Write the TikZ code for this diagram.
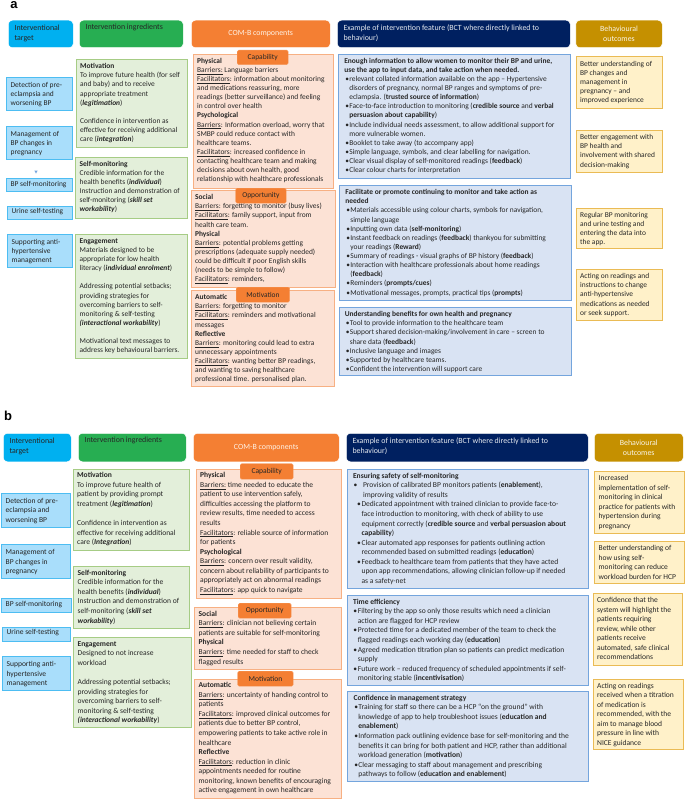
\documentclass[tikz,border=0pt]{standalone}
\usepackage{fontspec}
\setmainfont{Carlito}
\newfontfamily\labelfont{Liberation Sans}
\definecolor{txt}{HTML}{262626}
\definecolor{cyanH}{HTML}{00B0F0}
\definecolor{greenH}{HTML}{27AE52}
\definecolor{orangeH}{HTML}{F47F33}
\definecolor{navyH}{HTML}{002060}
\definecolor{goldH}{HTML}{C59000}
\definecolor{HC}{HTML}{4DBDF2}\definecolor{FC}{HTML}{A9DEFB}
\definecolor{HG}{HTML}{A6CC85}\definecolor{FG}{HTML}{E3EFDA}
\definecolor{HO}{HTML}{F7B083}\definecolor{FO}{HTML}{FCE2D5}
\definecolor{HB}{HTML}{74A5DD}\definecolor{FB}{HTML}{D9E3F3}
\definecolor{HY}{HTML}{EABB55}\definecolor{FY}{HTML}{FFF1C9}
\newcommand\fa{\fontsize{7.45}{9.13}\selectfont}
\newcommand\fb{\fontsize{7.55}{9.55}\selectfont}
\newcommand\fh{\fontsize{7.9}{10}\selectfont}
\tikzset{
 x=1pt,y=-1pt,
 plabel/.style={anchor=center,font=\labelfont\bfseries\fontsize{13}{14}\selectfont,text=black,inner sep=0pt},
 hdr/.style={draw=white,line width=0.5pt,rounded corners=4pt,text=txt,font=\fh},
 hcy/.style={hdr,fill=cyanH},
 hgr/.style={hdr,fill=greenH},
 hor/.style={hdr,fill=orangeH,text=white!90!orange},
 hna/.style={hdr,fill=navyH,text=white!90!navyH},
 hgo/.style={hdr,fill=goldH,text=white!90!goldH},
 tag/.style={draw=orangeH!80!white,line width=0.4pt,rounded corners=1.5pt,fill=orangeH,text=black!85},
 tbox/.style={line width=0.9pt,text=txt},
 tblue/.style={tbox,draw=HC,fill=FC},
 tgreen/.style={tbox,draw=HG,fill=FG},
 tcom/.style={tbox,draw=HO,fill=FO},
 tbct/.style={tbox,draw=HB,fill=FB},
 tout/.style={tbox,draw=HY,fill=FY},
}
\newlength\bulL\newlength\bulH
\setlength\bulL{1pt}\setlength\bulH{5pt}
\newcommand\bul{\par\noindent\hangindent=\bulH\hangafter=1 \hspace*{\bulL}\makebox[\dimexpr\bulH-\bulL\relax][l]{•}\ignorespaces}
\def\px{4.2}
% [top pad] name x0 y0 x1 y1 style text : box with text set from its top left corner
\newcommand\tb[8][2]{%
 \pgfmathsetlengthmacro\bw{#5-#3}\pgfmathsetlengthmacro\bh{#6-#4}%
 \node[#7,anchor=north west,inner sep=0pt,minimum width=\bw,minimum height=\bh] (#2) at (#3,#4)
 {\makebox[\bw][l]{\hspace*{\px pt}\parbox[c][\bh][t]{\dimexpr\bw+30pt\relax}{\raggedright\let\\\newline\vspace*{\dimexpr#1pt+2pt\relax}#8}}};}
% name x0 y0 x1 y1 style text : box with centred text
\newcommand\cb[7]{%
 \pgfmathsetlengthmacro\bw{#4-#2}\pgfmathsetlengthmacro\bh{#5-#3}%
 \node[#6,anchor=north west,inner sep=0pt,minimum width=\bw,minimum height=\bh,align=center] (#1) at (#2,#3) {#7};}
\newcommand\ul[1]{\underline{#1}}
\begin{document}
\begin{tikzpicture}
\useasboundingbox (0,0) rectangle (685,800);
\node[plabel] (la) at (14,5) {a};
\node[plabel] (lb) at (8,416) {b};
%---------- PANEL A headers
\def\px{6.3}
\tb[2.5]{ah1}{8}{20}{73}{47.5}{hcy}{\fh Interventional\\target}
\tb[2]{ah2}{79}{20}{183}{47.5}{hgr}{\fh Intervention ingredients}
\cb{ah3}{191}{20}{330}{47.5}{hor}{COM-B components}
\tb[2.5]{ah4}{337}{20}{570}{47.5}{hna}{\fh Example of intervention feature (BCT where directly linked to\\behaviour)}
\cb{ah5}{575.5}{20}{662}{47.5}{hgo}{Behavioural\\outcomes}
\def\px{4.2}
%---------- targets
\tb[3]{at1}{6}{77}{72}{110}{tblue}{\fa Detection of pre-\\eclampsia and\\worsening BP}
\tb[3]{at2}{6}{126}{72}{159}{tblue}{\fa Management of\\BP changes in\\pregnancy}
\fill[HB] (34.3,170.5) -- (37.7,170.5) -- (36,173.5) -- cycle;
\tb[0.5]{at3}{6}{178}{72}{191}{tblue}{\fa BP self-monitoring}
\tb[0.5]{at4}{7}{205.5}{72}{219}{tblue}{\fa Urine self-testing}
\tb[3]{at5}{7}{234}{72}{267}{tblue}{\fa Supporting anti-\\hypertensive\\management}
%---------- ingredients
\tb[2]{ai1}{75.5}{59}{187}{147}{tgreen}{\fa\textbf{Motivation}\\To improve future health (for self\\and baby) and to receive\\appropriate treatment\\(\textbf{\textit{legitimation}})\\\mbox{}\\Confidence in intervention as\\effective for receiving additional\\care (\textbf{\textit{integration}})}
\tb[2]{ai2}{75}{156.5}{187}{217.5}{tgreen}{\fa\textbf{Self-monitoring}\\Credible information for the\\health benefits (\textbf{\textit{individual}})\\Instruction and demonstration of\\self-monitoring (\textbf{\textit{skill set}}\\\textbf{\textit{workability}})}
\tb[2]{ai3}{75}{234}{187}{358}{tgreen}{\fa\textbf{Engagement}\\Materials designed to be\\appropriate for low health\\literacy (\textbf{\textit{individual enrolment}})\\\mbox{}\\Addressing potential setbacks;\\providing strategies for\\overcoming barriers to self-\\monitoring \& self-testing\\\textbf{\textit{(interactional workability}})\\\mbox{}\\Motivational text messages to\\address key behavioural barriers.}
%---------- COM-B
\tb[1.5]{ac1}{192.5}{54}{332.5}{187.5}{tcom}{\fa\textbf{Physical}\\\ul{Barriers:} Language barriers\\\ul{Facilitators}: information about monitoring\\and medications reassuring, more\\readings (better surveillance) and feeling\\in control over health\\\textbf{Psychological}\\\ul{Barriers}: Information overload, worry that\\SMBP could reduce contact with\\healthcare teams.\\\ul{Facilitators}: increased confidence in\\contacting healthcare team and making\\decisions about own health, good\\relationship with healthcare professionals}
\tb[2]{ac2}{190.5}{190}{334.5}{287}{tcom}{\fa\textbf{Social}\\\ul{Barriers}: forgetting to monitor (busy lives)\\\ul{Facilitators}: family support, input from\\health care team.\\\textbf{Physical}\\\ul{Barriers}: potential problems getting\\prescriptions (adequate supply needed)\\could be difficult if poor English skills\\(needs to be simple to follow)\\\ul{Facilitators}: reminders,}
\tb[2]{ac3}{190.5}{290}{333.5}{386}{tcom}{\fa\textbf{Automatic}\\\ul{Barriers}: forgetting to monitor\\\ul{Facilitators}: reminders and motivational\\messages\\\textbf{Reflective}\\\ul{Barriers}: monitoring could lead to extra\\unnecessary appointments\\\ul{Facilitators}: wanting better BP readings,\\and wanting to saving healthcare\\professional time. personalised plan.}
\cb{at-c1}{237}{50}{288}{64.5}{tag}{\fa Capability}
\cb{at-c2}{235.5}{188}{286}{203}{tag}{\fa Opportunity}
\cb{at-c3}{236}{287}{289.5}{302}{tag}{\fa Motivation}
%---------- BCT
\def\px{5.9}
\tb[1.5]{ab1}{338}{54}{570}{178}{tbct}{\fa\textbf{Enough information to allow women to monitor their BP and urine,}\\\textbf{use the app to input data, and take action when needed.}
\bul relevant collated information available on the app – Hypertensive\\disorders of pregnancy, normal BP ranges and symptoms of pre-\\eclampsia. (\textbf{trusted source of information})
\bul Face-to-face introduction to monitoring (\textbf{credible source} and \textbf{verbal}\\\textbf{persuasion about capability})
\bul Include individual needs assessment, to allow additional support for\\more vulnerable women.
\bul Booklet to take away (to accompany app)
\bul Simple language, symbols, and clear labelling for navigation.
\bul Clear visual display of self-monitored readings (\textbf{feedback})
\bul Clear colour charts for interpretation}
\tb[2]{ab2}{339}{185}{570.5}{300}{tbct}{\fa\textbf{Facilitate or promote continuing to monitor and take action as}\\\textbf{needed}
\bul Materials accessible using colour charts, symbols for navigation,\\simple language
\bul Inputting own data (\textbf{self-monitoring})
\bul Instant feedback on readings (\textbf{feedback}) thankyou for submitting\\your readings (\textbf{Reward})
\bul Summary of readings - visual graphs of BP history (\textbf{feedback})
\bul Interaction with healthcare professionals about home readings\\(\textbf{feedback})
\bul Reminders (\textbf{prompts/cues})
\bul Motivational messages, prompts, practical tips (\textbf{prompts})}
\tb[2]{ab3}{338.5}{307}{570.5}{375}{tbct}{\fa\textbf{Understanding benefits for own health and pregnancy}
\bul Tool to provide information to the healthcare team
\bul Support shared decision-making/involvement in care – screen to\\share data (\textbf{feedback})
\bul Inclusive language and images
\bul Supported by healthcare teams.
\bul Confident the intervention will support care}
\def\px{4.2}
%---------- outcomes
\tb[2]{ao1}{575.5}{56.5}{661.5}{107.5}{tout}{\fa Better understanding of\\BP changes and\\management  in\\pregnancy – and\\improved experience}
\tb[2]{ao2}{575.5}{130}{661.5}{172}{tout}{\fa Better engagement with\\BP health and\\involvement  with shared\\decision-making}
\tb[2]{ao3}{575.5}{207.5}{661.5}{248}{tout}{\fa Regular BP monitoring\\and urine testing and\\entering the data into\\the app.}
\tb[2]{ao4}{575.5}{269}{661.5}{320}{tout}{\fa Acting on readings and\\instructions to change\\anti-hypertensive\\medications as needed\\or seek support.}
%---------- PANEL B headers
\def\px{6.3}
\tb[2.5]{bh1}{3}{433}{71}{461.5}{hcy}{\fh Interventional\\target}
\tb[2]{bh2}{78}{433}{186}{461.5}{hgr}{\fh Intervention ingredients}
\cb{bh3}{193}{433}{339}{461.5}{hor}{COM-B components}
\tb[2.5]{bh4}{346}{433}{588}{461.5}{hna}{\fh Example of intervention feature (BCT where directly linked to\\behaviour)}
\cb{bh5}{594}{433}{683}{461.5}{hgo}{Behavioural\\outcomes}
\def\px{4.2}
%---------- targets
\tb[3]{bt1}{1}{492.5}{70}{526.5}{tblue}{\fb Detection of pre-\\eclampsia and\\worsening BP}
\tb[3]{bt2}{1}{544}{70}{578}{tblue}{\fb Management of\\BP changes in\\pregnancy}
\tb[0.5]{bt3}{1}{598}{71}{612}{tblue}{\fb BP self-monitoring}
\tb[0.5]{bt4}{2}{626.5}{70}{640.5}{tblue}{\fb Urine self-testing}
\tb[3]{bt5}{2}{656}{70}{690}{tblue}{\fb Supporting anti-\\hypertensive\\management}
%---------- ingredients
\tb[1.5]{bi1}{72.5}{468.5}{189}{549.5}{tgreen}{\fb\textbf{Motivation}\\To improve future health of\\patient by providing prompt\\treatment (\textbf{\textit{legitimation}})\\\mbox{}\\Confidence in intervention as\\effective for receiving additional\\care (\textbf{\textit{Integration}})}
\tb[1.5]{bi2}{73}{566}{189}{627.5}{tgreen}{\fb\textbf{Self-monitoring}\\Credible information for the\\health benefits (\textbf{\textit{individual}})\\Instruction and demonstration of\\self-monitoring (\textbf{\textit{skill set}}\\\textbf{\textit{workability}})}
\tb[2]{bi3}{73}{637}{191}{727}{tgreen}{\fb\textbf{Engagement}\\Designed to not increase\\workload\\\mbox{}\\Addressing potential setbacks;\\providing strategies for\\overcoming barriers to self-\\monitoring \& self-testing\\\textbf{\textit{(interactional workability}})}
%---------- COM-B
\tb[1.5]{bc1}{195.5}{468.5}{341}{597.5}{tcom}{\fb\textbf{Physical}\\\ul{Barriers:} time needed to educate the\\patient to use intervention safely,\\difficulties accessing the platform to\\review results, time needed to access\\results\\\ul{Facilitators}: reliable source of information\\for patients\\\textbf{Psychological}\\\ul{Barriers}: concern over result validity,\\concern about reliability of participants to\\appropriately act on abnormal readings\\\ul{Facilitators}: app quick to navigate}
\tb[1.5]{bc2}{194}{607}{341}{668.5}{tcom}{\fb\textbf{Social}\\\ul{Barriers}: clinician not believing certain\\patients are suitable for self-monitoring\\\textbf{Physical}\\\ul{Barriers}: time needed for staff to check\\flagged results}
\tb[1.5]{bc3}{194}{678.5}{341}{798}{tcom}{\fb\textbf{Automatic}\\\ul{Barriers}: uncertainty of handing control to\\patients\\\ul{Facilitators}: improved clinical outcomes for\\patients due to better BP control,\\empowering patients to take active role in\\healthcare\\\textbf{Reflective}\\\ul{Facilitators}: reduction in clinic\\appointments needed for routine\\monitoring, known benefits of encouraging\\active engagement in own healthcare}
\cb{bt-c1}{240}{463.5}{293}{479}{tag}{\fb Capability}
\cb{bt-c2}{238}{603}{291}{618}{tag}{\fb Opportunity}
\cb{bt-c3}{237.5}{671}{293}{686}{tag}{\fb Motivation}
%---------- BCT
\def\px{6.1}
\tb[1.5]{bb1}{346.5}{469}{588}{588}{tbct}{\fb\textbf{Ensuring safety of self-monitoring}
\setlength\bulL{0.5pt}\setlength\bulH{10pt}
\bul Provision of calibrated BP monitors patients (\textbf{enablement}),\\improving validity of results
\setlength\bulL{4pt}\setlength\bulH{8.5pt}
\bul Dedicated appointment with trained clinician to provide face-to-\\face introduction to monitoring, with check of ability to use\\equipment correctly (\textbf{credible source} and \textbf{verbal persuasion about}\\\textbf{capability})
\bul Clear automated app responses for patients outlining action\\recommended based on submitted readings (\textbf{education})
\bul Feedback to healthcare team from patients that they have acted\\upon app recommendations, allowing clinician follow-up if needed\\as a safety-net}
\tb[1.5]{bb2}{346.5}{595}{588}{685}{tbct}{\fb\textbf{Time efficiency}
\setlength\bulL{0.4pt}\setlength\bulH{4.8pt}
\bul Filtering by the app so only those results which need a clinician\\action are flagged for HCP review
\bul Protected time for a dedicated member of the team to check the\\flagged readings each working day (\textbf{education})
\bul Agreed medication titration plan so patients can predict medication\\supply
\bul Future work – reduced frequency of scheduled appointments if self-\\monitoring stable (\textbf{incentivisation})}
\tb[1.5]{bb3}{347}{691}{588}{781}{tbct}{\fb\textbf{Confidence in management strategy}
\setlength\bulL{0.8pt}\setlength\bulH{4.8pt}
\bul Training for staff so there can be a HCP “on the ground” with\\knowledge of app to help troubleshoot issues (\textbf{education and}\\\textbf{enablement})
\bul Information pack outlining evidence base for self-monitoring and the\\benefits it can  bring for both patient and HCP, rather than additional\\workload generation (\textbf{motivation})
\bul Clear messaging to staff about management and prescribing\\pathways to follow (\textbf{education and enablement})}
\def\px{4.2}
%---------- outcomes
\tb[2]{bo1}{594}{471}{683.5}{533}{tout}{\fb Increased\\implementation of self-\\monitoring in clinical\\practice for patients with\\hypertension during\\pregnancy}
\tb[2]{bo2}{594}{541}{683.5}{583}{tout}{\fb Better understanding of\\how using self-\\monitoring can reduce\\workload burden for HCP}
\tb[2]{bo3}{592.5}{593}{682}{665}{tout}{\fb Confidence that the\\system will highlight the\\patients requiring\\review, while other\\patients receive\\automated, safe clinical\\recommendations}
\tb[2]{bo4}{592.5}{678.5}{682.5}{749}{tout}{\fb Acting on readings\\received when a titration\\of medication is\\recommended, with the\\aim to manage blood\\pressure in line with\\NICE guidance}
\end{tikzpicture}
\end{document}
